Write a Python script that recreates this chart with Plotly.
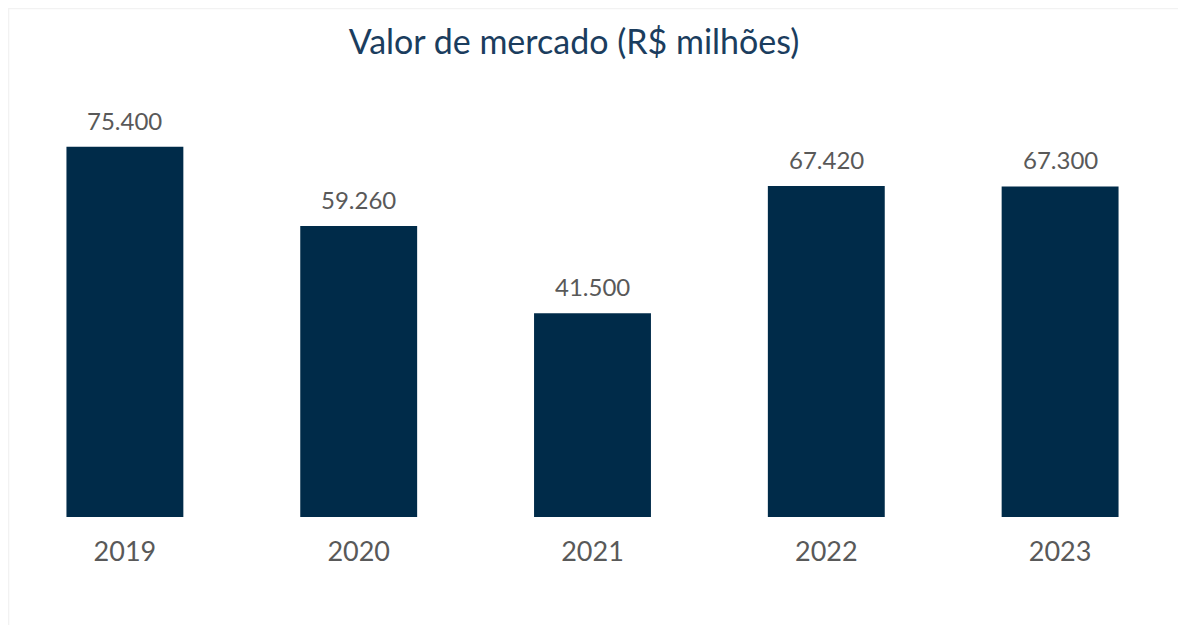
import plotly.graph_objects as go

years = ["2019", "2020", "2021", "2022", "2023"]
values = [75400, 59260, 41500, 67420, 67300]

bar_color = "#002B49"
label_color = "#595959"

W, H = 1178, 617
L, R, T, B = 0, 9, 67, 108

fig = go.Figure()
fig.add_trace(go.Bar(
    x=years, y=values, marker=dict(color=bar_color, line=dict(width=0)),
    width=0.5, hoverinfo="skip",
))

labels = [f"{v:,}".replace(",", ".") for v in values]
for i, (v, t) in enumerate(zip(values, labels)):
    fig.add_annotation(
        x=i, y=v, xref="x", yref="y",
        text=t,
        showarrow=False, yanchor="bottom", yshift=10,
        font=dict(family="Lato", size=24, color=label_color),
    )

# faint frame (only top and left edges fall inside the canvas)
plot_h = H - T - B
top_paper = 1 + (T - 0.5) / plot_h
fig.add_shape(type="rect", xref="paper", yref="paper", x0=0.0005, x1=1.05,
              y0=-0.4, y1=top_paper,
              line=dict(color="#F2F2F2", width=1.5), layer="below")

fig.update_layout(
    width=W, height=H,
    margin=dict(l=L, r=R, t=T, b=B),
    paper_bgcolor="white", plot_bgcolor="rgba(0,0,0,0)",
    showlegend=False,
    title=dict(text="Valor de mercado (R$ milhões)", x=(574 - 8) / W, xref="container", xanchor="center",
               y=1 - 34 / H, yref="container", yanchor="middle",
               font=dict(family="Lato", size=34, color="#1B3D5E")),
    xaxis=dict(type="category", range=[-0.5, 4.5], showgrid=False, showline=False, zeroline=False, ticks="",
               tickfont=dict(family="Lato", size=27, color=label_color),
               ticklabelstandoff=16),
    yaxis=dict(range=[0, 90000], visible=False, showgrid=False, zeroline=False),
)
fig.write_html("out.html")
